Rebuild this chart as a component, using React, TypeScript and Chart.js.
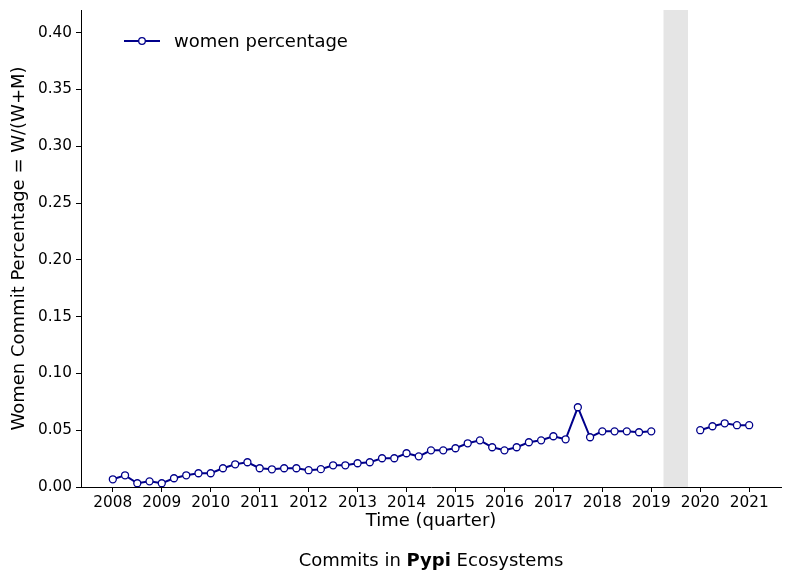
import React, { useEffect, useRef } from "react";
import { Chart, registerables } from "chart.js";

Chart.register(...registerables);

// ---- data ----
const quarters: number[] = [
  2008.0, 2008.25, 2008.5, 2008.75,
  2009.0, 2009.25, 2009.5, 2009.75,
  2010.0, 2010.25, 2010.5, 2010.75,
  2011.0, 2011.25, 2011.5, 2011.75,
  2012.0, 2012.25, 2012.5, 2012.75,
  2013.0, 2013.25, 2013.5, 2013.75,
  2014.0, 2014.25, 2014.5, 2014.75,
  2015.0, 2015.25, 2015.5, 2015.75,
  2016.0, 2016.25, 2016.5, 2016.75,
  2017.0, 2017.25, 2017.5, 2017.75,
  2018.0, 2018.25, 2018.5, 2018.75,
  2019.0, 2019.25, 2019.5, 2019.75,
  2020.0, 2020.25, 2020.5, 2020.75,
  2021.0,
];

const womenPercentage: (number | null)[] = [
  0.0068, 0.0103, 0.0033, 0.005,
  0.0033, 0.0077, 0.0103, 0.0121,
  0.0121, 0.0165, 0.02, 0.0218,
  0.0165, 0.0156, 0.0165, 0.0165,
  0.0148, 0.0157, 0.0191, 0.0191,
  0.0209, 0.0218, 0.0253, 0.0253,
  0.0297, 0.027, 0.0323, 0.0323,
  0.0341, 0.0385, 0.0411, 0.035,
  0.0323, 0.035, 0.0394, 0.0411,
  0.0447, 0.042, 0.0702, 0.0438,
  0.049, 0.049, 0.049, 0.0482,
  0.049, null, null, null,
  0.05, 0.0535, 0.0561, 0.0544,
  0.0544,
];

const xTickValues: number[] = [2008, 2009, 2010, 2011, 2012, 2013, 2014, 2015, 2016, 2017, 2018, 2019, 2020, 2021];
const yTickValues: number[] = [0, 0.05, 0.1, 0.15, 0.2, 0.25, 0.3, 0.35, 0.4];
const shadedSpan: number[] = [2019.25, 2019.75];

const seriesLabel = "women percentage";
const xTitle = "Time (quarter)";
const yTitle = "Women Commit Percentage = W/(W+M)";
const captionParts: { text: string; bold: boolean }[] = [
  { text: "Commits in ", bold: false },
  { text: "Pypi", bold: true },
  { text: " Ecosystems", bold: false },
];

const FONT = "'DejaVu Sans', sans-serif";
const LINE_COLOR = "#00008b";

const decorPlugin = {
  id: "decor",
  beforeDatasetsDraw(chart: any) {
    const { ctx, chartArea, scales } = chart;
    const x0 = scales.x.getPixelForValue(shadedSpan[0]);
    const x1 = scales.x.getPixelForValue(shadedSpan[1]);
    ctx.save();
    ctx.fillStyle = "#e5e5e5";
    ctx.fillRect(x0, chartArea.top, x1 - x0, chartArea.bottom - chartArea.top);
    ctx.restore();
  },
  afterDraw(chart: any) {
    const { ctx, chartArea } = chart;
    ctx.save();
    ctx.fillStyle = "#000";
    // legend
    const ly = 41;
    ctx.strokeStyle = LINE_COLOR;
    ctx.lineWidth = 2;
    ctx.beginPath();
    ctx.moveTo(124, ly);
    ctx.lineTo(160, ly);
    ctx.stroke();
    ctx.beginPath();
    ctx.arc(142, ly, 3.3, 0, Math.PI * 2);
    ctx.fillStyle = "#fff";
    ctx.fill();
    ctx.lineWidth = 1.3;
    ctx.stroke();
    ctx.fillStyle = "#000";
    ctx.font = `18px ${FONT}`;
    ctx.textBaseline = "middle";
    ctx.textAlign = "left";
    ctx.fillText(seriesLabel, 174, ly + 1);

    // x title
    const cx = (chartArea.left + chartArea.right) / 2;
    ctx.textAlign = "center";
    ctx.fillText(xTitle, cx, 521);

    // y title
    ctx.save();
    ctx.translate(19, (chartArea.top + chartArea.bottom) / 2);
    ctx.rotate(-Math.PI / 2);
    ctx.fillText(yTitle, 0, 0);
    ctx.restore();

    // caption
    const widths = captionParts.map((p) => {
      ctx.font = `${p.bold ? "bold " : ""}18px ${FONT}`;
      return ctx.measureText(p.text).width;
    });
    const total = widths.reduce((a, b) => a + b, 0);
    let x = cx - total / 2;
    ctx.textAlign = "left";
    captionParts.forEach((p, i) => {
      ctx.font = `${p.bold ? "bold " : ""}18px ${FONT}`;
      ctx.fillText(p.text, x, 561);
      x += widths[i];
    });
    ctx.restore();
  },
};

export default function App() {
  const ref = useRef<HTMLCanvasElement | null>(null);

  useEffect(() => {
    if (!ref.current) return;
    Chart.defaults.font.family = FONT;
    const chart = new Chart(ref.current, {
      type: "line",
      data: {
        datasets: [
          {
            label: seriesLabel,
            data: quarters.map((q, i) => ({ x: q, y: womenPercentage[i] })) as any,
            borderColor: LINE_COLOR,
            borderWidth: 2,
            pointRadius: 3.5,
            pointHoverRadius: 3.5,
            pointBackgroundColor: "#fff",
            pointBorderColor: LINE_COLOR,
            pointBorderWidth: 1.3,
            tension: 0,
            spanGaps: false,
          },
        ],
      },
      options: {
        animation: false,
        responsive: false,
        devicePixelRatio: 1,
        layout: { padding: { left: 0, right: 11, top: 10, bottom: 0 } },
        plugins: {
          legend: { display: false },
          tooltip: { enabled: false },
        },
        scales: {
          x: {
            type: "linear",
            min: 2007.35,
            max: 2021.65,
            afterBuildTicks: (s: any) => {
              s.ticks = xTickValues.map((v) => ({ value: v }));
            },
            afterFit: (s: any) => {
              s.height = 89;
              s.paddingLeft = 0;
              s.paddingRight = 0;
            },
            ticks: {
              color: "#000",
              font: { size: 15.3, family: FONT },
              padding: 2,
              autoSkip: false,
              maxRotation: 0,
              callback: (v: any) => String(v),
            },
            grid: { drawOnChartArea: false, tickLength: 5, tickColor: "#000", tickWidth: 1 },
            border: { display: true, color: "#000", width: 1 },
          },
          y: {
            type: "linear",
            min: 0,
            max: 0.42,
            afterBuildTicks: (s: any) => {
              s.ticks = yTickValues.map((v) => ({ value: v }));
            },
            afterFit: (s: any) => {
              s.width = 81;
              s.paddingTop = 0;
              s.paddingBottom = 0;
            },
            ticks: {
              color: "#000",
              font: { size: 15.3, family: FONT },
              padding: 4,
              callback: (v: any) => Number(v).toFixed(2),
            },
            grid: { drawOnChartArea: false, tickLength: 5, tickColor: "#000", tickWidth: 1 },
            border: { display: true, color: "#000", width: 1 },
          },
        },
      },
      plugins: [decorPlugin],
    });
    return () => chart.destroy();
  }, []);

  return (
    <div style={{ position: "absolute", left: 0, top: 0, width: 792, height: 576, background: "#fff" }}>
      <canvas ref={ref} width={792} height={576} style={{ width: 792, height: 576 }} />
    </div>
  );
}
